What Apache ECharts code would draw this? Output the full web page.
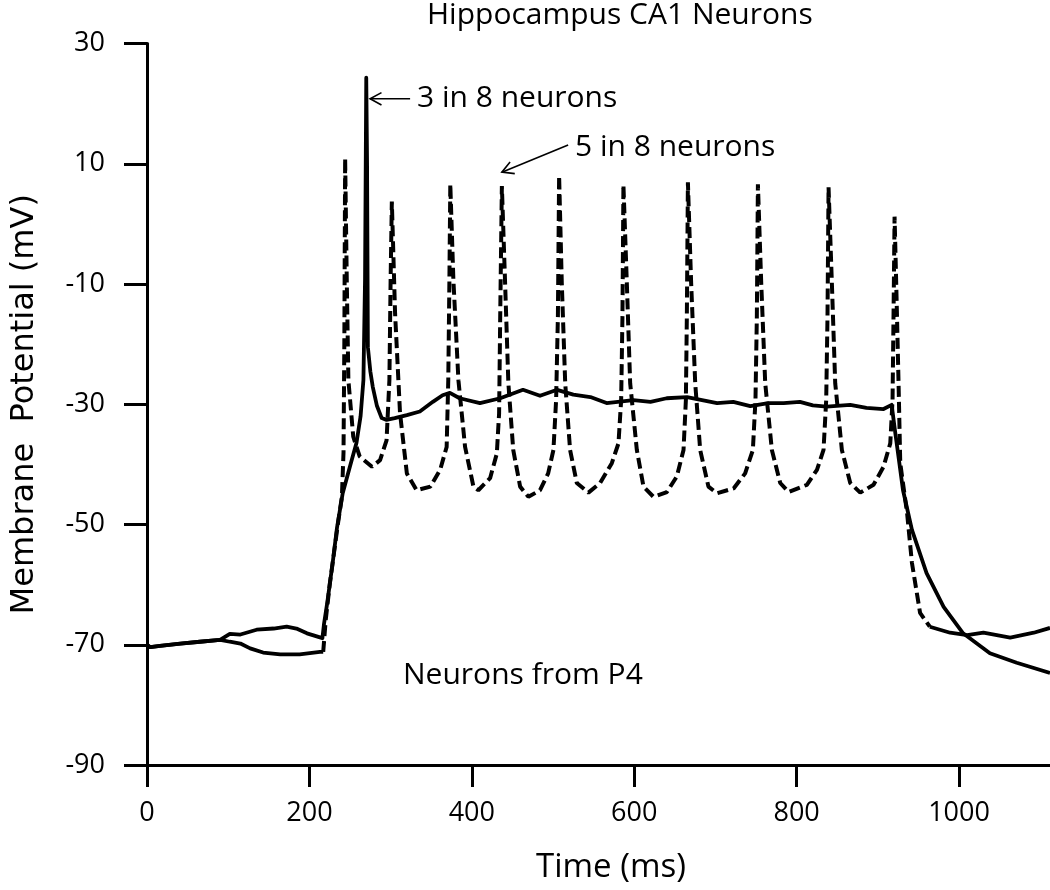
<!DOCTYPE html>
<html><head><meta charset="utf-8">
<script src="https://cdn.jsdelivr.net/npm/echarts@6/dist/echarts.min.js"></script>
<style>html,body{margin:0;padding:0;background:#fff}#c{width:1050px;height:890px}</style>
</head><body><div id="c"></div>
<script>
// ---- data ----
const xTicks = [0, 200, 400, 600, 800, 1000];
const yTicks = [-90, -70, -50, -30, -10, 10, 30];

// "3 in 8 neurons" trace (solid)
const solidTime = [0,4,16,41,65,90,102,115,135,156,172,184,197,216,218,222,229,234,241,250,258,263,266.5,268.5,270,271,272,275,278,283,289,295,305,320,336,352,364,373,385,410,435,463,484,505,525,546,566,599,620,640,665,702,722,743,765,784,804,820,837,866,886,907,917,921,931,942,960,981,1005,1038,1071,1112];
const solidMv   = [-70.0,-70.4,-70.2,-69.8,-69.5,-69.2,-68.2,-68.3,-67.5,-67.3,-67.0,-67.3,-68.1,-68.9,-66.5,-63,-56,-50.5,-44.8,-40.3,-36.4,-32,-26,-9.3,24.3,10,-20.5,-24.5,-27.1,-30.2,-32.3,-32.6,-32.3,-31.8,-31.2,-29.6,-28.5,-28.1,-29.0,-29.8,-29.0,-27.6,-28.6,-27.6,-28.4,-28.8,-29.8,-29.3,-29.6,-29.0,-28.8,-29.8,-29.6,-30.3,-29.8,-29.8,-29.6,-30.2,-30.4,-30.1,-30.6,-30.8,-30.1,-34.3,-44.3,-50.9,-58.1,-63.7,-68.1,-71.4,-73.0,-74.7];

// "5 in 8 neurons" trace (dashed)
const dashedTime = [0,4,16,41,65,90,102,115,127,143,164,188,213,217,220,225,230,235,240,242,243,244,246,248,254,262,277,287,295,298.5,300,301.5,305.5,311.6,320,332,349,361,369,371,372.4,373.5,377.3,383.5,391.7,402,408,422.5,430.8,433.6,435,437,441,445,451,459.5,469.7,484,494,500.5,503.8,506,507.5,510.8,515,521,529.3,543.6,558,572.4,580.6,583.9,585.5,586.7,590.9,595,603.2,611.4,623.7,640.2,652.5,660.7,663.6,664.8,666.1,670.1,675.1,681.2,691.4,701.8,722.4,736.6,746.1,749.3,751,752.3,756.4,761.3,769.5,779.8,790,812.6,825,833.1,836.4,838,839.3,843.4,847.5,855.7,866,878.3,894.7,907,915.3,918.1,919.3,920.6,923,925.5,927.6,936,942,952,964,989,1010,1030,1063,1092,1112];
const dashedMv   = [-70.0,-70.4,-70.2,-69.8,-69.5,-69.2,-69.5,-69.8,-70.6,-71.3,-71.6,-71.6,-71.2,-71.2,-66,-60,-55,-50,-45.4,-38,-20,10.9,-9.3,-26,-35.4,-38.7,-40.4,-39.3,-36,-26,-9.3,3.7,-14.9,-31.5,-41.5,-44.3,-43.7,-40.9,-37.1,-26,-9.3,6.6,-9.3,-26,-37.1,-43.7,-44.3,-42.3,-38.2,-31.5,-14.9,6.3,-9.9,-26.5,-37.6,-43.7,-45.4,-44.3,-41.5,-37.6,-29.3,-15.4,8.0,-9.9,-26.5,-37.6,-43.1,-44.7,-43.1,-39.8,-36.5,-29.3,-15.4,6.5,-9.9,-26.5,-37.6,-43.7,-45.4,-44.6,-42.0,-37.6,-29.3,-15.4,6.9,-9.9,-26.5,-37.6,-43.7,-44.8,-44.0,-41.5,-37.6,-29.3,-15.4,6.6,-9.9,-26.5,-37.6,-43.1,-44.6,-43.4,-40.9,-37.6,-29.3,-15.4,6.1,-9.9,-26.5,-37.6,-43.1,-44.7,-43.4,-40.4,-36.5,-29.3,-15.4,1.2,-12,-26.5,-39.8,-48.1,-56.4,-64.7,-67.0,-68.0,-68.4,-68.0,-68.8,-68.0,-67.2];

// annotation anchors (data coords): [tail, tip]
const arrow3in8 = [[324, 20.8], [274.7, 20.8]];
const arrow5in8 = [[518.6, 13.1], [437, 8.6]];
const dashStart = 217, dashEnd = 964;

// ---- build ----
const zip = (t, v) => t.map((x, i) => [x, v[i]]);
const solidData = zip(solidTime, solidMv);
const dashedData = zip(dashedTime, dashedMv);
const i0 = dashedTime.indexOf(dashStart), i1 = dashedTime.indexOf(dashEnd);
const dashedA = dashedData.slice(0, i0 + 1);
const dashedB = dashedData.slice(i0, i1 + 1);
const dashedC = dashedData.slice(i1);

const FONT = '"Open Sans", sans-serif';
const chart = echarts.init(document.getElementById('c'), null, {renderer: 'canvas'});
const lineBase = {type: 'line', showSymbol: false, symbol: 'none', silent: true, z: 3};
chart.setOption({
  animation: false,
  backgroundColor: '#fff',
  title: {
    text: 'Hippocampus CA1 Neurons', left: 427, top: 0, padding: 0,
    textStyle: {fontFamily: FONT, fontSize: 30, fontWeight: 'normal', color: '#000'}
  },
  grid: {left: 147, right: 0, top: 43.5, bottom: 125, containLabel: false, outerBoundsMode: 'none'},
  xAxis: {
    type: 'value', min: 0, max: 1112,
    name: 'Time (ms)', nameLocation: 'middle', nameGap: 86,
    nameTextStyle: {fontFamily: FONT, fontSize: 33, color: '#000', padding: [0, 0, 0, 25]},
    axisLine: {onZero: false, lineStyle: {color: '#000', width: 3}},
    axisTick: {show: true, length: 22, lineStyle: {color: '#000', width: 3}, customValues: xTicks},
    axisLabel: {margin: 35, fontFamily: FONT, fontSize: 27, color: '#000', customValues: xTicks,
      formatter: v => String(v)},
    splitLine: {show: false}
  },
  yAxis: {
    type: 'value', min: -90, max: 30,
    name: 'Membrane  Potential (mV)', nameLocation: 'middle', nameGap: 106,
    nameTextStyle: {fontFamily: '"DejaVu Sans", sans-serif', fontSize: 32, color: '#000'},
    axisLine: {show: true, onZero: false, lineStyle: {color: '#000', width: 3}},
    axisTick: {show: true, length: 23, lineStyle: {color: '#000', width: 3}, customValues: yTicks},
    axisLabel: {margin: 42, fontFamily: FONT, fontSize: 27, color: '#000', customValues: yTicks,
      formatter: v => String(v)},
    splitLine: {show: false}
  },
  series: [
    Object.assign({}, lineBase, {name: '3 in 8 neurons', data: solidData, lineStyle: {color: '#000', width: 3.8, join: 'round'}}),
    Object.assign({}, lineBase, {name: '5 in 8 neurons', data: dashedA, lineStyle: {color: '#000', width: 3.8}}),
    Object.assign({}, lineBase, {name: '5 in 8 neurons (spiking)', data: dashedB, lineStyle: {color: '#000', width: 4, type: [11, 5]}}),
    Object.assign({}, lineBase, {name: '5 in 8 neurons (after)', data: dashedC, lineStyle: {color: '#000', width: 3.8}})
  ]
});

function arrowGraphic(pair) {
  const a = chart.convertToPixel({gridIndex: 0}, pair[0]);
  const b = chart.convertToPixel({gridIndex: 0}, pair[1]);
  const ang = Math.atan2(a[1] - b[1], a[0] - b[0]);
  const L = 13, s = 0.5;
  const h1 = [b[0] + L * Math.cos(ang + s), b[1] + L * Math.sin(ang + s)];
  const h2 = [b[0] + L * Math.cos(ang - s), b[1] + L * Math.sin(ang - s)];
  return [
    {type: 'line', shape: {x1: a[0], y1: a[1], x2: b[0], y2: b[1]}, style: {stroke: '#000', lineWidth: 1.6}, z: 10},
    {type: 'polyline', shape: {points: [h1, b, h2]}, style: {stroke: '#000', lineWidth: 1.6, fill: null}, z: 10}
  ];
}
const txt = (text, x, y) => ({type: 'text', x: x, y: y, z: 10,
  style: {text: text, fontFamily: FONT, fontSize: 30, fill: '#000', verticalAlign: 'middle', align: 'left'}});
chart.setOption({
  graphic: [].concat(
    arrowGraphic(arrow3in8), arrowGraphic(arrow5in8),
    [txt('3 in 8 neurons', 417, 98), txt('5 in 8 neurons', 575, 147), txt('Neurons from P4', 403, 675)]
  )
});
</script></body></html>
